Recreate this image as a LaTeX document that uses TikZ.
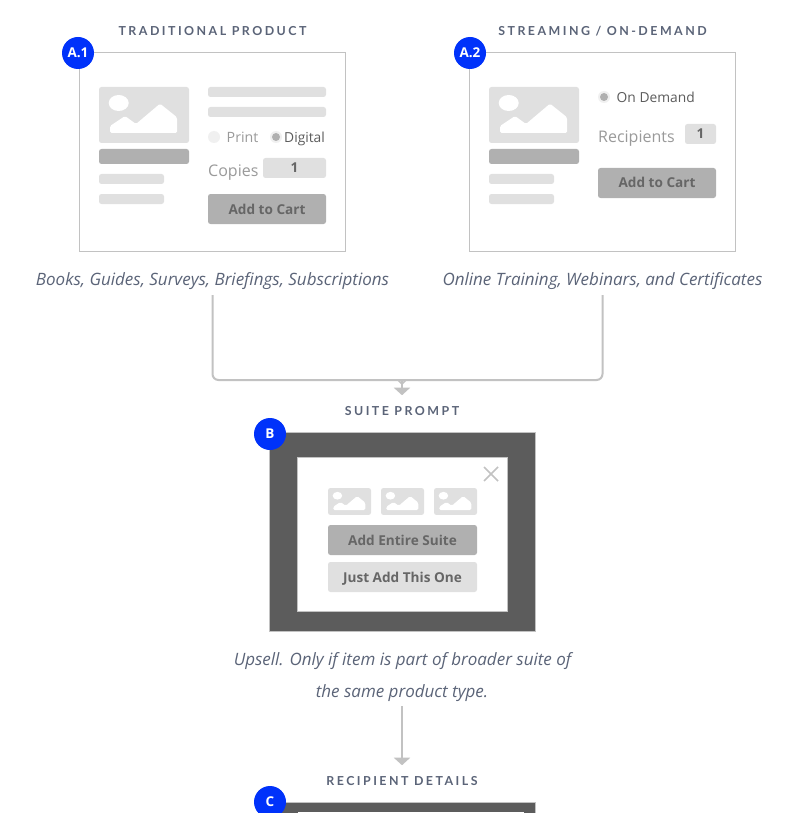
\documentclass[tikz,border=0pt]{standalone}
\usepackage{fontspec}
\setmainfont{Open Sans}
\newfontfamily\hdrfont[LetterSpace=20]{Lato}
\newfontfamily\badgefont{Open Sans}
\usetikzlibrary{arrows.meta}
\definecolor{lightgr}{HTML}{E0E0E0}
\definecolor{midgr}{HTML}{B0B0B0}
\definecolor{darkgr}{HTML}{5C5C5C}
\definecolor{btntx}{HTML}{666666}
\definecolor{linegr}{HTML}{C2C2C2}
\definecolor{slate}{HTML}{5B6478}
\definecolor{faint}{HTML}{F0F0F0}
\definecolor{labelgr}{HTML}{9A9A9A}
\definecolor{badgeblue}{HTML}{0032FA}
\tikzset{
  hdr/.style={font=\hdrfont\bfseries\fontsize{12.4}{14}\selectfont, text=slate, inner sep=0pt},
  capt/.style={font=\itshape\fontsize{17}{20}\selectfont, text=slate, inner ysep=0pt, inner xsep=0pt, text height=12pt, text depth=4pt},
  card/.style={draw=linegr, line width=1pt, fill=white},
  lightbar/.style={fill=lightgr, rounded corners=2.5pt},
  midbar/.style={fill=midgr, rounded corners=2.5pt},
  btntext/.style={rounded corners=2.5pt, inner sep=0pt, font=\bfseries\fontsize{13.6}{16}\selectfont, text=btntx, text height=10pt, text depth=0pt},
  midbtn/.style={btntext, fill=midgr},
  lightbtn/.style={btntext, fill=lightgr},
  qtytext/.style={lightbtn, text height=9.5pt},
  faintlabel/.style={inner sep=0pt, text=labelgr, font=\fontsize{16}{18}\selectfont, text height=10pt, text depth=3pt},
  darklabel/.style={inner sep=0pt, text=darkgr, font=\fontsize{13.8}{17}\selectfont, text height=10pt, text depth=3pt},
  badge/.style={circle, fill=badgeblue, minimum size=32pt, inner sep=0pt, text=white, font=\badgefont\bfseries\fontsize{13.5}{16}\selectfont},
  flow/.style={draw=linegr, line width=2pt},
  tip/.style={-{Triangle[width=16pt,length=7.5pt]}, shorten >=0pt},
  pics/imgicon/.style={code={
    \fill[lightgr, rounded corners=2.5pt] (0,0) rectangle (90,56);
    \fill[white] (19.7,16) ellipse [x radius=10, y radius=8];
    \fill[white, rounded corners=1.5pt] (11,46) -- (11,39) -- (26,29) -- (37,37) -- (61,16.7) -- (78,30.3) -- (78,46) -- cycle;
  }}
}
\begin{document}
\begin{tikzpicture}[x=1pt,y=-1pt]
\useasboundingbox (0,0) rectangle (811,813);
\fill[white] (0,0) rectangle (811,813);
\begin{scope}
\clip (0,0) rectangle (811,813);

% headers
\node[hdr] (h1) at (212.5,31) {TRADITIONAL PRODUCT};
\node[hdr] (h2) at (602.5,31) {STREAMING / ON-DEMAND};

% card A.1
\draw[card] (79.5,52.5) rectangle (345.5,251.5);
\pic at (99,87) {imgicon};
\fill[midbar] (99,149) rectangle (189,164);
\fill[lightbar] (99,174) rectangle (164,184);
\fill[lightbar] (99,194) rectangle (164,204);
\fill[lightbar] (208,87) rectangle (326,97);
\fill[lightbar] (208,107) rectangle (326,117);
\fill[faint] (214,137) circle (6);
\node[faintlabel, anchor=west, font=\fontsize{14.2}{17}\selectfont] (print) at (226.5,139) {Print};
\fill[faint] (276,137) circle (6);
\fill[midgr] (276,137) circle (4);
\node[darklabel, anchor=west] (digital) at (284,139) {Digital};
\node[faintlabel, anchor=west] (copies) at (208,173) {Copies};
\node[qtytext, minimum width=63pt, minimum height=20pt] (q1) at (294.5,168) {1};
\node[midbtn, minimum width=118pt, minimum height=30pt] (b1) at (267,209) {Add to Cart};

% card A.2
\draw[card] (469.5,52.5) rectangle (735.5,251.5);
\pic at (489,87) {imgicon};
\fill[midbar] (489,149) rectangle (579,164);
\fill[lightbar] (489,174) rectangle (554,184);
\fill[lightbar] (489,194) rectangle (554,204);
\fill[faint] (604,97) circle (6);
\fill[midgr] (604,97) circle (4);
\node[darklabel, anchor=west] (ondemand) at (616.5,99) {On Demand};
\node[faintlabel, anchor=west] (recip) at (598,139) {Recipients};
\node[qtytext, minimum width=31pt, minimum height=20pt] (q2) at (700.5,134) {1};
\node[midbtn, minimum width=118pt, minimum height=30pt] (b2) at (657,183) {Add to Cart};

% badges A
\node[badge] (ba1) at (78,53) {A.1};
\node[badge] (ba2) at (470,53) {A.2};

% captions
\node[capt] (c1) at (212.5,281) {Books, Guides, Surveys, Briefings, Subscriptions};
\node[capt] (c2) at (602.5,281) {Online Training, Webinars, and Certificates};

% connector to suite
\coordinate (merge) at (402,380);
\coordinate (s1) at ([yshift=-6pt]c1.south);
\coordinate (s2) at ([yshift=-6pt]c2.south);
\draw[flow, rounded corners=6pt] (s1) -- (s1 |- merge) -- (s2 |- merge) -- (s2);

% suite
\node[hdr] (h3) at (402,411) {SUITE PROMPT};
\coordinate (h3top) at ([yshift=11pt]h3.north);
\draw[flow, tip] (merge) -- (h3top);
\draw[linegr, line width=1.5pt] ([xshift=-4pt]merge) -- ([yshift=-4pt]merge) -- ([xshift=4pt]merge);
\draw[draw=linegr, line width=1pt, fill=darkgr] (269.5,432.5) rectangle (535.5,631.5);
\draw[draw=linegr, line width=1pt, fill=white] (297.5,457.5) rectangle (507.5,611.5);
\draw[draw=linegr, line width=1.6pt] (484,467) -- (498,481) (498,467) -- (484,481);
\foreach \tx in {328,381,434}{
  \pic[xscale=0.478, yscale=0.482] at (\tx,488) {imgicon};
}
\node[midbtn, minimum width=149pt, minimum height=30pt] (b3) at (402.5,540) {Add Entire Suite};
\node[lightbtn, minimum width=149pt, minimum height=30pt] (b4) at (402.5,577) {Just Add This One};
\node[badge] (bb) at (270,434) {B};

% upsell text
\node[capt] (u1) at (402.5,661) {Upsell. Only if item is part of broader suite of};
\node[capt] (u2) at (402,693) {the same product type.};

% recipient
\node[hdr] (h4) at (402,781) {RECIPIENT DETAILS};
\coordinate (u2b) at ([yshift=-5pt]u2.south);
\coordinate (h4top) at ([yshift=11pt]h4.north);
\draw[flow, tip] (u2b) -- (h4top);
\draw[draw=linegr, line width=1pt, fill=darkgr] (269.5,802.5) rectangle (535.5,830);
\fill[white] (297.5,812) rectangle (524,830);
\node[badge] (bc) at (270,802) {C};
\end{scope}
\end{tikzpicture}
\end{document}
